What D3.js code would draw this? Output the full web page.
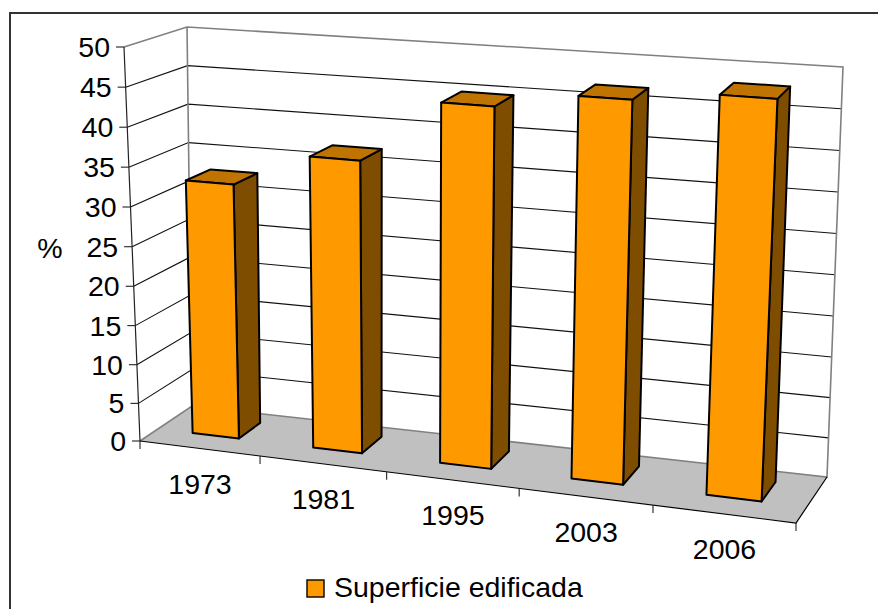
<!DOCTYPE html>
<html lang="en">
<head>
<meta charset="utf-8">
<script src="https://d3js.org/d3.v7.min.js"></script>
<title>Superficie edificada</title>
<style>
    html, body { margin: 0; padding: 0; background: #fff; overflow: hidden; }
    text { font-family: "Liberation Sans", Arial, sans-serif; fill: #000; }
</style>
</head>
<body>
<div id="chart"></div>
<script type="text/javascript">
// data
var years = ["1973", "1981", "1995", "2003", "2006"];
var superficie = [32.6, 36.9, 44.8, 46.8, 48.1];
var yTicks = [0, 5, 10, 15, 20, 25, 30, 35, 40, 45, 50];
var seriesName = "Superficie edificada";
var yTitle = "%";

var width = 878, height = 609;

// corners of the 3d box on screen: [left, right] at floor and ceiling, front and back
var floorFront = [[140, 441], [796, 523]];
var floorBack = [[192, 406], [827, 477]];
var topFront = [[124, 47], [816, 96]];
var topBack = [[187, 27], [843, 67]];

// categories get wider to the right, the box is drawn in perspective
var u = d3.scaleLinear().domain([0, 1, 2, 3, 4, 5]).range([0, 0.183, 0.376, 0.578, 0.782, 1]);
var v = d3.scalePow().exponent(1.02).domain([0, 50]).range([0, 1]);

function mix(a, b, t) { return [a[0] + (b[0] - a[0]) * t, a[1] + (b[1] - a[1]) * t]; }

// cat = position along the categories, val = value, depth = 0 front .. 1 back
function project(cat, val, depth) {
    var t = u(cat), h = v(val);
    var bottom = mix(mix(floorFront[0], floorFront[1], t), mix(floorBack[0], floorBack[1], t), depth);
    var top = mix(mix(topFront[0], topFront[1], t), mix(topBack[0], topBack[1], t), depth);
    return mix(bottom, top, h);
}

var line = d3.line();
var n = years.length;

var svg = d3.select("#chart").append("svg")
    .attr("width", width)
    .attr("height", height);

function poly(points, fill, stroke, sw) {
    return svg.append("path")
        .attr("d", line(points) + "Z")
        .attr("fill", fill)
        .attr("stroke", stroke)
        .attr("stroke-width", sw)
        .attr("stroke-linejoin", "round");
}
function seg(points, stroke, sw) {
    return svg.append("path")
        .attr("d", line(points))
        .attr("fill", "none")
        .attr("stroke", stroke)
        .attr("stroke-width", sw);
}

// outer frame, only top and left are in the picture
seg([[10, 609], [10, 13], [878, 13]], "#333", 2);

// floor
poly([project(0, 0, 0), project(n, 0, 0), project(n, 0, 1), project(0, 0, 1)], "#c0c0c0", "none", 0);

// gridlines, side wall then back wall
yTicks.slice(1, -1).forEach(function(t) {
    seg([project(0, t, 0), project(0, t, 1), project(n, t, 1)], "#111", 1.1);
});

// wall outlines
seg([project(0, 50, 0), project(0, 50, 1), project(n, 50, 1), project(n, 0, 1), project(0, 0, 1), project(0, 0, 0)], "#808080", 1.6);
seg([project(0, 50, 1), project(0, 0, 1)], "#808080", 1.6);

// floor front and right edge, value axis
seg([project(0, 0, 0), project(n, 0, 0), project(n, 0, 1)], "#000", 1.2);
seg([project(0, 50, 0), project(0, 0, 0)], "#222", 1.2);

// value axis ticks and labels
yTicks.forEach(function(t) {
    var p = project(0, t, 0);
    seg([[p[0] - 8, p[1]], p], "#222", 1.1);
    svg.append("text")
        .attr("x", p[0] - 14)
        .attr("y", p[1] + 10)
        .attr("text-anchor", "end")
        .attr("font-size", 28.5)
        .text(t);
});

svg.append("text")
    .attr("x", 50).attr("y", 258)
    .attr("text-anchor", "middle")
    .attr("font-size", 28.5)
    .text(yTitle);

// category ticks and labels
d3.range(n + 1).forEach(function(i) {
    var p = project(i, 0, 0);
    seg([p, [p[0], p[1] + 8]], "#222", 1.1);
});
years.forEach(function(y, i) {
    var p = project(i + 0.5, 0, 0);
    svg.append("text")
        .attr("x", p[0])
        .attr("y", p[1] + 45)
        .attr("text-anchor", "middle")
        .attr("font-size", 28.5)
        .text(y);
});

// bars
var barLeft = 0.29, barRight = 0.68, depth0 = 0.35, depth1 = 0.78;
var bars = years.map(function(y, i) { return { i: i, value: superficie[i] }; });
bars.forEach(function(d) {
    var a = d.i + barLeft, b = d.i + barRight;
    // right side
    poly([project(b, 0, depth0), project(b, 0, depth1), project(b, d.value, depth1), project(b, d.value, depth0)], "#7f4d00", "#000", 2);
    // top
    poly([project(a, d.value, depth0), project(b, d.value, depth0), project(b, d.value, depth1), project(a, d.value, depth1)], "#bf7300", "#000", 2);
    // front
    poly([project(a, 0, depth0), project(b, 0, depth0), project(b, d.value, depth0), project(a, d.value, depth0)], "#ff9900", "#000", 2);
});

// legend
svg.append("rect")
    .attr("x", 307).attr("y", 580)
    .attr("width", 17).attr("height", 17)
    .attr("fill", "#ff9900").attr("stroke", "#000").attr("stroke-width", 1.4);
svg.append("text")
    .attr("x", 334).attr("y", 597)
    .attr("font-size", 28.5)
    .text(seriesName);
</script>
</body>
</html>
